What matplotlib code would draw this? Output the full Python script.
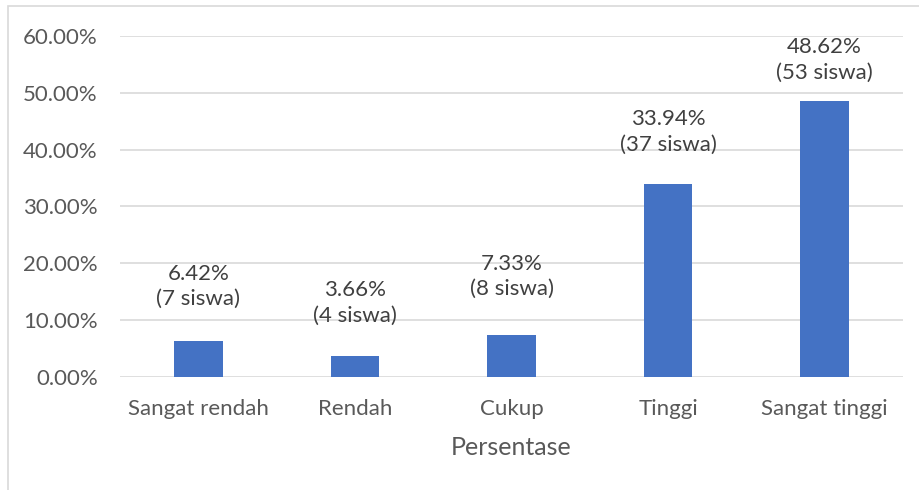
import matplotlib
matplotlib.use("Agg")
import matplotlib.pyplot as plt
from matplotlib.ticker import FuncFormatter
from matplotlib.patches import Rectangle
from matplotlib.transforms import offset_copy

categories = ["Sangat rendah", "Rendah", "Cukup", "Tinggi", "Sangat tinggi"]
values = [6.42, 3.66, 7.33, 33.94, 48.62]
counts = [7, 4, 8, 37, 53]
yticks = [0, 10, 20, 30, 40, 50, 60]
label_offsets_px = [54, 53, 59, 52, 41]

plt.rcParams['font.family'] = ['Lato', 'DejaVu Sans']
W, H = 919, 490
fig = plt.figure(figsize=(W / 100, H / 100), dpi=100)
ax = fig.add_axes([120 / W, (H - 377) / H, (903 - 120) / W, (377 - 36) / H])

x = list(range(len(categories)))
ax.bar(x, values, width=0.31, color="#4472C4", zorder=3)
ax.set_xlim(-0.5, len(categories) - 0.5)
ax.set_ylim(0, 60)
ax.set_yticks(yticks)
ax.yaxis.set_major_formatter(FuncFormatter(lambda v, p: f"{v:.2f}%"))
ax.grid(axis="y", color="#D9D9D9", linewidth=1.2, zorder=0)
for s in ax.spines.values():
    s.set_visible(False)
ax.tick_params(axis="both", length=0, colors="#595959", labelsize=16)
ax.tick_params(axis="y", pad=16)
ax.tick_params(axis="x", pad=16)
ax.set_xticks(x)
ax.set_xticklabels(categories)
ax.set_xlabel("Persentase", fontsize=18, color="#595959", labelpad=12)

for xi, v, c, off in zip(x, values, counts, label_offsets_px):
    tr = offset_copy(ax.transData, fig=fig, x=0, y=off * 72 / 100, units="points")
    ax.text(xi, v, f"{v:.2f}%\n({c} siswa)", transform=tr, ha="center", va="center",
            fontsize=16, color="#404040", linespacing=1.35, zorder=4)

fig.patches.append(Rectangle((8 / W, -0.1), 1.2, (H - 6) / H + 0.1, transform=fig.transFigure,
                             fill=False, edgecolor="#D9D9D9", linewidth=1.2))

fig.savefig("out.png", dpi=100)
